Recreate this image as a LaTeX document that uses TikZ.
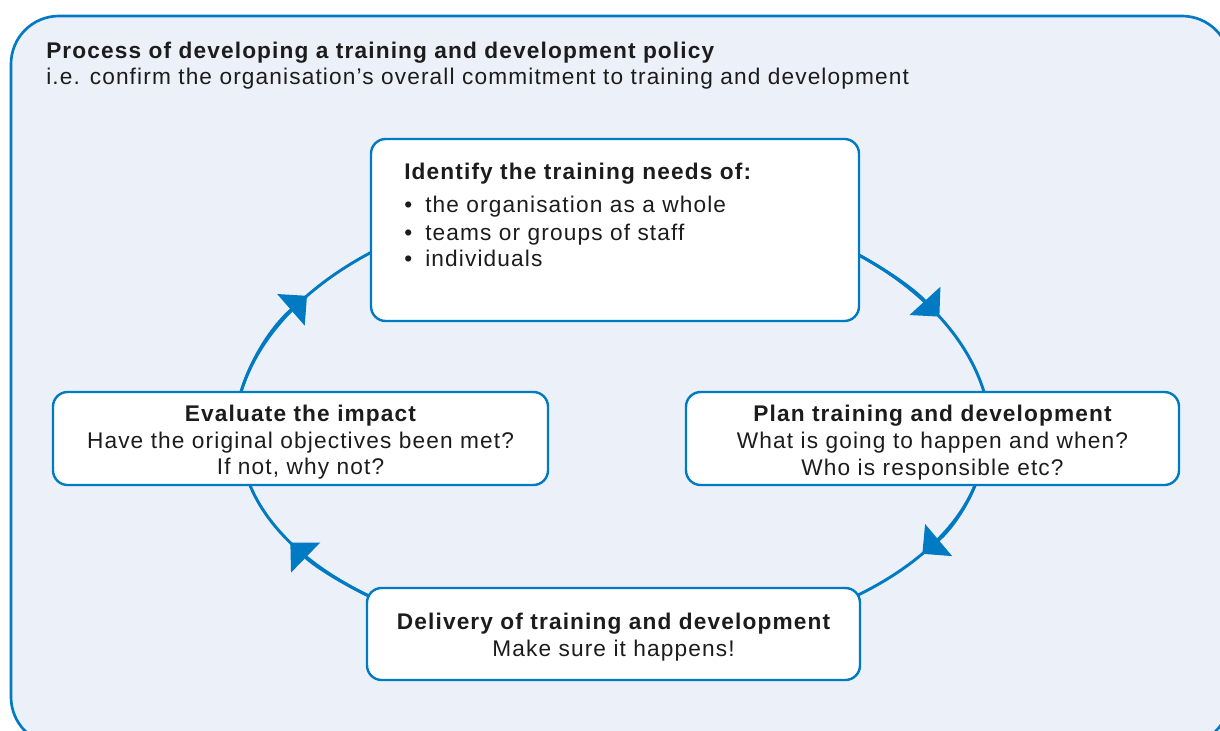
\documentclass[tikz,border=0pt]{standalone}
\usepackage{fontspec}
\setmainfont{Liberation Sans}[LetterSpace=5]
\usetikzlibrary{arrows.meta}
\definecolor{cycleblue}{RGB}{0,122,194}
\definecolor{panelbg}{RGB}{236,240,248}
\definecolor{inktext}{RGB}{28,28,28}
\newcommand{\bodysize}{\fontsize{17}{20.4}\selectfont}
\begin{document}
\begin{tikzpicture}[x=0.75pt,y=-0.75pt,
  panel/.style={draw=cycleblue, line width=2pt, fill=panelbg, rounded corners=36pt},
  stagebox/.style={draw=cycleblue, line width=1.8pt, fill=white, rounded corners=11pt, inner sep=0pt},
  txt/.style={inner sep=0pt, text=inktext, font=\bodysize},
  boldtxt/.style={inner sep=0pt, text=inktext, font=\bodysize\bfseries},
  cyclearc/.style={draw=cycleblue, line width=2.2pt},
  cycletip/.style={cyclearc, -{Triangle[length=16pt,width=31pt]}}]
\useasboundingbox (0,0) rectangle (1220,731);

% background panel, running past the right and bottom edges
\begin{scope}
  \clip (0,0) rectangle (1220,731);
  \draw[panel] (11,16) rectangle (1230,745);
\end{scope}

\node[boldtxt, anchor=base west] (title) at (46,59) {Process of developing a training and development policy};
\node[txt, anchor=base west] (subtitle) at (46,85) {i.e. confirm the organisation’s overall commitment to training and development};

% cycle arcs (upper half and lower half use slightly different ellipses)
\coordinate (c) at (612.5,438.5);
\def\ua{378.6}\def\ub{241.6}
\def\la{372}\def\lb{208.4}
% evaluate -> identify
\draw[cyclearc] (c) ++(-172:\ua\space and \ub) arc[start angle=-172, end angle=-126, x radius=\ua, y radius=\ub];
\draw[cycletip] (c) ++(-172:\ua\space and \ub) arc[start angle=-172, end angle=-143.8, x radius=\ua, y radius=\ub];
% identify -> plan
\draw[cyclearc] (c) ++(-53:\ua\space and \ub) arc[start angle=-53, end angle=-8, x radius=\ua, y radius=\ub];
\draw[cycletip] (c) ++(-53:\ua\space and \ub) arc[start angle=-53, end angle=-30.3, x radius=\ua, y radius=\ub];
% plan -> delivery
\draw[cyclearc] (c) ++(9:\la\space and \lb) arc[start angle=9, end angle=52, x radius=\la, y radius=\lb];
\draw[cycletip] (c) ++(9:\la\space and \lb) arc[start angle=9, end angle=33.6, x radius=\la, y radius=\lb];
% delivery -> evaluate
\draw[cyclearc] (c) ++(128:\la\space and \lb) arc[start angle=128, end angle=171, x radius=\la, y radius=\lb];
\draw[cycletip] (c) ++(128:\la\space and \lb) arc[start angle=128, end angle=150, x radius=\la, y radius=\lb];

% stage boxes
\node[stagebox, minimum width=366pt, minimum height=136.5pt] (identify) at (615,230) {};
\node[stagebox, minimum width=369.75pt, minimum height=69.75pt] (plan) at (932.5,438.5) {};
\node[stagebox, minimum width=369.75pt, minimum height=69pt] (delivery) at (613.5,634) {};
\node[stagebox, minimum width=371.25pt, minimum height=69.75pt] (evaluate) at (300.5,438.5) {};

% identify
\node[boldtxt, anchor=base west] (needs) at (404,179.5) {Identify the training needs of:};
\node[txt, anchor=base west] (needa) at (404,212.7) {\makebox[15.75pt][l]{•}the organisation as a whole};
\node[txt, anchor=base west] (needb) at (404,240) {\makebox[15.75pt][l]{•}teams or groups of staff};
\node[txt, anchor=base west] (needc) at (404,266.7) {\makebox[15.75pt][l]{•}individuals};

% plan
\node[boldtxt, anchor=base] (plana) at (932.5,421.7) {Plan training and development};
\node[txt, anchor=base] (planb) at (932.5,448) {What is going to happen and when?};
\node[txt, anchor=base] (planc) at (932.5,475) {Who is responsible etc?};

% delivery
\node[boldtxt, anchor=base] (deliva) at (613.5,629.5) {Delivery of training and development};
\node[txt, anchor=base] (delivb) at (613.5,656.5) {Make sure it happens!};

% evaluate
\node[boldtxt, anchor=base] (evala) at (300.5,421.5) {Evaluate the impact};
\node[txt, anchor=base] (evalb) at (300.5,448.5) {Have the original objectives been met?};
\node[txt, anchor=base] (evalc) at (300.5,474.5) {If not, why not?};
\end{tikzpicture}
\end{document}
